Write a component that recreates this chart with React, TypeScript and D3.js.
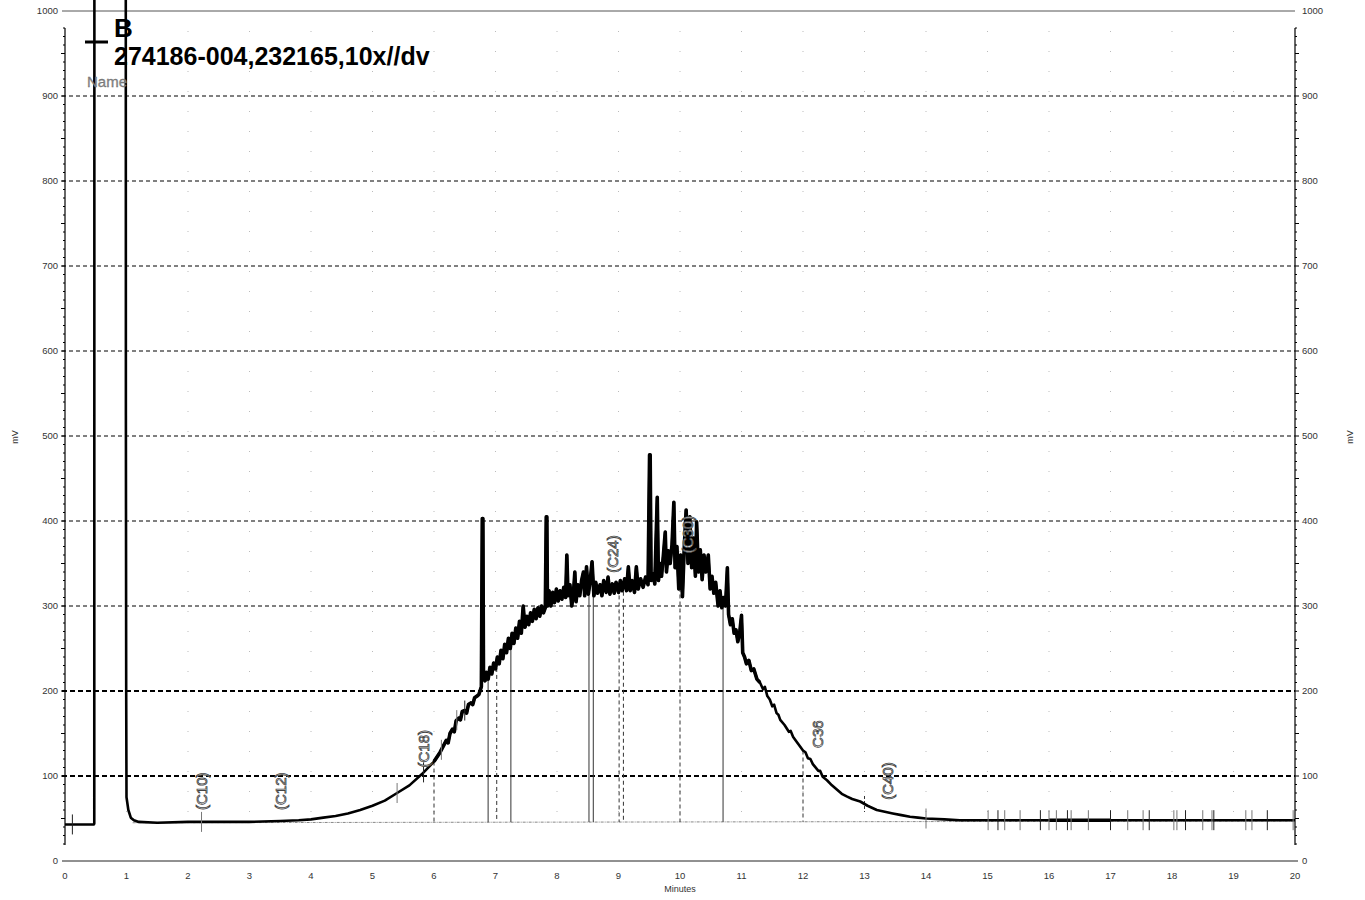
import React from "react";
import * as d3 from "d3";

// ---- data (minutes, mV) ----
const startTrace: [number, number][] = [
  [0, 43], [0.47, 43], [0.476, 44], [0.478, 1100], [0.988, 1100], [0.99, 524],
  [0.995, 200], [1.0, 75], [1.03, 60], [1.07, 51], [1.12, 48], [1.2, 46],
  [1.5, 45], [2.0, 46], [2.5, 46], [3.0, 46], [3.5, 47], [3.8, 48], [4.0, 49],
  [4.2, 51], [4.4, 53], [4.6, 56], [4.8, 60], [5.0, 65], [5.2, 71], [5.4, 80],
  [5.6, 89], [5.8, 102], [6.0, 117], [6.1, 128], [6.2, 142], [6.23, 139],
  [6.26, 150], [6.3, 155], [6.33, 152], [6.36, 165], [6.4, 168], [6.43, 166],
  [6.46, 176], [6.5, 177], [6.53, 174], [6.56, 184], [6.6, 186], [6.63, 184],
  [6.66, 192], [6.7, 194], [6.73, 196], [6.77, 205],
];

const humpTrace: [number, number][] = [
  [6.785, 403], [6.795, 403], [6.805, 215], [6.83, 212], [6.85, 222], [6.88, 214],
  [6.91, 228], [6.94, 220], [6.97, 233], [7.0, 226], [7.03, 240], [7.06, 232],
  [7.09, 248], [7.12, 238], [7.15, 255], [7.18, 245], [7.21, 262], [7.24, 250],
  [7.27, 268], [7.3, 256], [7.33, 274], [7.36, 262], [7.39, 282], [7.42, 268],
  [7.45, 300], [7.48, 275], [7.51, 288], [7.54, 278], [7.57, 292], [7.6, 282],
  [7.63, 296], [7.66, 285], [7.69, 298], [7.72, 288], [7.75, 300], [7.78, 292],
  [7.81, 298], [7.825, 405], [7.835, 405], [7.845, 300], [7.87, 318], [7.9, 300],
  [7.93, 316], [7.96, 304], [7.99, 320], [8.02, 306], [8.05, 318], [8.08, 308],
  [8.11, 322], [8.14, 310], [8.16, 360], [8.18, 312], [8.21, 325], [8.24, 300],
  [8.27, 318], [8.29, 340], [8.31, 305], [8.34, 325], [8.37, 312], [8.4, 330],
  [8.43, 340], [8.45, 312], [8.48, 346], [8.51, 314], [8.54, 330], [8.57, 352],
  [8.6, 312], [8.63, 328], [8.66, 315], [8.7, 325], [8.73, 312], [8.76, 330],
  [8.8, 316], [8.83, 334], [8.86, 314], [8.9, 326], [8.93, 315], [8.96, 328],
  [9.0, 316], [9.03, 330], [9.06, 318], [9.1, 332], [9.13, 318], [9.16, 346],
  [9.19, 318], [9.22, 330], [9.26, 316], [9.29, 346], [9.32, 320], [9.36, 332],
  [9.4, 322], [9.44, 334], [9.48, 325], [9.505, 478], [9.515, 478], [9.53, 330],
  [9.56, 338], [9.59, 326], [9.63, 428], [9.65, 330], [9.68, 350], [9.7, 335],
  [9.73, 360], [9.76, 387], [9.78, 340], [9.81, 365], [9.84, 350], [9.87, 372],
  [9.9, 422], [9.92, 345], [9.95, 370], [9.98, 320], [10.01, 360], [10.04, 311],
  [10.07, 370], [10.1, 413], [10.13, 350], [10.16, 405], [10.19, 345], [10.22, 380],
  [10.25, 335], [10.27, 399], [10.3, 340], [10.33, 366], [10.36, 331], [10.39, 360],
  [10.42, 340], [10.46, 360], [10.49, 320], [10.52, 335], [10.55, 315], [10.58, 328],
  [10.62, 300], [10.65, 318], [10.68, 298], [10.71, 310], [10.74, 300], [10.77, 345],
  [10.79, 290], [10.82, 278], [10.85, 285], [10.88, 268], [10.91, 272], [10.94, 258],
  [10.97, 268], [11.0, 289], [11.02, 245], [11.05, 240], [11.08, 232], [11.12, 236],
  [11.16, 224], [11.2, 226],
];

const tailTrace: [number, number][] = [
  [11.25, 214], [11.3, 210], [11.35, 202], [11.38, 205], [11.42, 194], [11.46, 190],
  [11.5, 182], [11.53, 184], [11.57, 174], [11.6, 172], [11.63, 166], [11.7, 160],
  [11.77, 152], [11.8, 153], [11.84, 146], [11.92, 138], [12.0, 130], [12.04, 128],
  [12.08, 121], [12.12, 120], [12.16, 114], [12.25, 106], [12.28, 106], [12.32, 99],
  [12.39, 95], [12.47, 89], [12.55, 84], [12.63, 79], [12.71, 76], [12.8, 73],
  [12.93, 70], [13.05, 65], [13.2, 60], [13.33, 58], [13.46, 56], [13.6, 54],
  [13.74, 52], [13.87, 51], [14.0, 50], [14.3, 49], [14.55, 48], [15, 48], [16, 48],
  [17, 48], [18, 48], [19, 48], [20, 48],
];

// integration baseline (dotted)
const integrationBaseline: [number, number][] = [[1.1, 45], [20, 47]];

// drop lines from trace to baseline
const dropTimes = [6.0, 6.88, 7.02, 7.25, 8.52, 8.59, 9.01, 9.08, 10.0, 10.7, 12.0];
const dropDashed = [true, false, true, false, false, false, true, true, true, false, true];

// short peak delimiter marks
const markTimes = [
  0.12, 2.22, 5.4, 5.83, 6.12, 6.37, 6.5, 14.0, 15.01, 15.17, 15.28, 15.53,
  15.86, 16.0, 16.12, 16.3, 16.36, 16.64, 17.0, 17.28, 17.53, 17.63, 18.03, 18.08,
  18.22, 18.5, 18.65, 18.68, 19.2, 19.3, 19.55, 19.97,
];

// peak name labels
const peakLabels = ["(C10)", "(C12)", "(C18)", "(C24)", "(C30)", "C36", "(C40)"];
const peakLabelTimes = [2.22, 3.5, 5.83, 8.9, 10.13, 12.24, 13.37];
const peakLabelMV = [60, 60, 110, 339, 362, 133, 72];

// time ranges where the recorded trace forms a denser, thicker band
const denseRanges: [number, number][] = [[6.0, 11.3], [16.0, 17.1]];

const xTicks = d3.range(0, 21);
const yTicks = [0, 100, 200, 300, 400, 500, 600, 700, 800, 900, 1000];
const yMinorTicks = d3.range(0, 1001, 10);

const W = 1365;
const H = 900;
const X0 = 65;
const X1 = 1295;
const Y0 = 861;
const Y1 = 11;
const FONT = "Liberation Sans, Arial, sans-serif";

export default function App() {
  const x = d3.scaleLinear().domain([0, 20]).range([X0, X1]);
  const y = d3.scaleLinear().domain([0, 1000]).range([Y0, Y1]);
  const trace = [...startTrace, ...humpTrace, ...tailTrace];
  const line = d3
    .line<[number, number]>()
    .x((d) => x(d[0]))
    .y((d) => y(d[1]));
  const bis = d3.bisector((d: [number, number]) => d[0]).left;
  const valueAt = (t: number) => {
    const i = Math.max(1, Math.min(trace.length - 1, bis(trace, t)));
    const a = trace[i - 1];
    const b = trace[i];
    const f = (t - a[0]) / (b[0] - a[0] || 1);
    return a[1] + (b[1] - a[1]) * f;
  };
  const baseAt = (t: number) =>
    integrationBaseline[0][1] +
    ((integrationBaseline[1][1] - integrationBaseline[0][1]) * (t - integrationBaseline[0][0])) /
      (integrationBaseline[1][0] - integrationBaseline[0][0]);

  return (
    <svg
      width={W}
      height={H}
      style={{ position: "absolute", left: 0, top: 0, display: "block", background: "#fff" }}
      fontFamily={FONT}
    >
      <defs>
        <clipPath id="plotclip">
          <rect x={X0} y={0} width={X1 - X0} height={Y0} />
        </clipPath>
      </defs>

      {/* vertical dotted minute grid */}
      {xTicks.slice(1, 20).map((t) => (
        <line
          key={"vg" + t}
          x1={x(t)}
          x2={x(t)}
          y1={y(1000) + 20}
          y2={y(0) - 30}
          stroke="#bbb"
          strokeWidth={1}
          strokeDasharray="1 19"
        />
      ))}

      {/* horizontal grid lines */}
      {yTicks.slice(1, 10).map((v) => (
        <line
          key={"hg" + v}
          x1={X0 - 3}
          x2={X1}
          y1={y(v)}
          y2={y(v)}
          stroke="#000"
          strokeWidth={v <= 200 ? 1.8 : 1}
          strokeDasharray={v <= 200 ? "5 3" : "4 3"}
        />
      ))}
      {/* top line */}
      <line x1={X0 - 3} x2={X1} y1={y(1000)} y2={y(1000)} stroke="#555" strokeWidth={1} />
      {/* x axis line */}
      <line x1={X0 - 3} x2={X1 + 3} y1={Y0} y2={Y0} stroke="#222" strokeWidth={1} />

      {/* left / right axis lines */}
      <line x1={X0} x2={X0} y1={28} y2={845} stroke="#000" strokeWidth={1.2} />
      <line x1={X1} x2={X1} y1={28} y2={845} stroke="#000" strokeWidth={1.2} />
      {yMinorTicks
        .filter((v) => y(v) >= 28 && y(v) <= 845)
        .map((v) => (
          <g key={"mt" + v}>
            <line x1={X0 - (v % 50 === 0 ? 4 : 2)} x2={X0} y1={y(v)} y2={y(v)} stroke="#000" strokeWidth={1} />
            <line x1={X1} x2={X1 + (v % 50 === 0 ? 4 : 2)} y1={y(v)} y2={y(v)} stroke="#000" strokeWidth={1} />
          </g>
        ))}

      {/* y tick labels */}
      {yTicks.map((v) => (
        <g key={"yl" + v}>
          <text x={X0 - 7} y={y(v)} dy="0.35em" textAnchor="end" fontSize={9.5} fill="#333">
            {v}
          </text>
          <text x={X1 + 7} y={y(v)} dy="0.35em" textAnchor="start" fontSize={9.5} fill="#333">
            {v}
          </text>
        </g>
      ))}
      {/* x tick labels */}
      {xTicks.map((t) => (
        <text key={"xl" + t} x={x(t)} y={879} textAnchor="middle" fontSize={9.5} fill="#333">
          {t}
        </text>
      ))}
      <text x={680} y={892} textAnchor="middle" fontSize={9} fill="#333">
        Minutes
      </text>
      <text transform={`translate(18,437) rotate(-90)`} textAnchor="middle" fontSize={9} fill="#333">
        mV
      </text>
      <text transform={`translate(1353,437) rotate(-90)`} textAnchor="middle" fontSize={9} fill="#333">
        mV
      </text>

      {/* integration baseline */}
      <path
        d={line(integrationBaseline) || ""}
        fill="none"
        stroke="#888"
        strokeWidth={1}
        strokeDasharray="3 1 1 1"
      />

      {/* drop lines */}
      {dropTimes.map((t, i) => (
        <line
          key={"dl" + i}
          x1={x(t)}
          x2={x(t)}
          y1={y(Math.min(valueAt(t), 330))}
          y2={y(baseAt(t))}
          stroke="#333"
          strokeWidth={1}
          strokeDasharray={dropDashed[i] ? "4 3" : undefined}
        />
      ))}
      {/* short dashed line at 13.0 */}
      <line x1={x(13.0)} x2={x(13.0)} y1={y(valueAt(13.0)) - 8} y2={y(valueAt(13.0)) + 8} stroke="#333" strokeDasharray="3 2" />

      {/* trace */}
      <g clipPath="url(#plotclip)">
        <path d={line(trace) || ""} fill="none" stroke="#000" strokeWidth={2.6} strokeLinejoin="round" />
        {denseRanges.map((r, i) => (
          <path
            key={"dr" + i}
            d={line(trace.filter((d) => d[0] >= r[0] && d[0] <= r[1])) || ""}
            fill="none"
            stroke="#000"
            strokeWidth={i === 0 ? 3.6 : 3.4}
            strokeLinejoin="round"
          />
        ))}
      </g>

      {/* peak delimiter marks */}
      {markTimes.map((t, i) => (
        <line
          key={"mk" + i}
          x1={x(t)}
          x2={x(t)}
          y1={y(valueAt(t)) - 10}
          y2={y(valueAt(t)) + 10}
          stroke={i % 3 === 0 ? "#222" : "#777"}
          strokeWidth={1}
        />
      ))}

      {/* peak labels */}
      {peakLabels.map((s, i) => (
        <text
          key={"pl" + i}
          transform={`translate(${x(peakLabelTimes[i])},${y(peakLabelMV[i])}) rotate(-90)`}
          dy="0.35em"
          textAnchor="start"
          fontSize={15}
          fill="#fff"
          stroke="#444"
          strokeWidth={0.8}
        >
          {s}
        </text>
      ))}

      {/* legend / title */}
      <line x1={85} x2={108} y1={42} y2={42} stroke="#000" strokeWidth={3} />
      <text x={114} y={37} fontSize={26} fontWeight="bold" fill="#000">
        B
      </text>
      <text x={114} y={65} fontSize={25} fontWeight="bold" fill="#000">
        274186-004,232165,10x//dv
      </text>
      <text x={87} y={87} fontSize={15} fill="#888" stroke="#666" strokeWidth={0.3}>
        Name
      </text>
    </svg>
  );
}
